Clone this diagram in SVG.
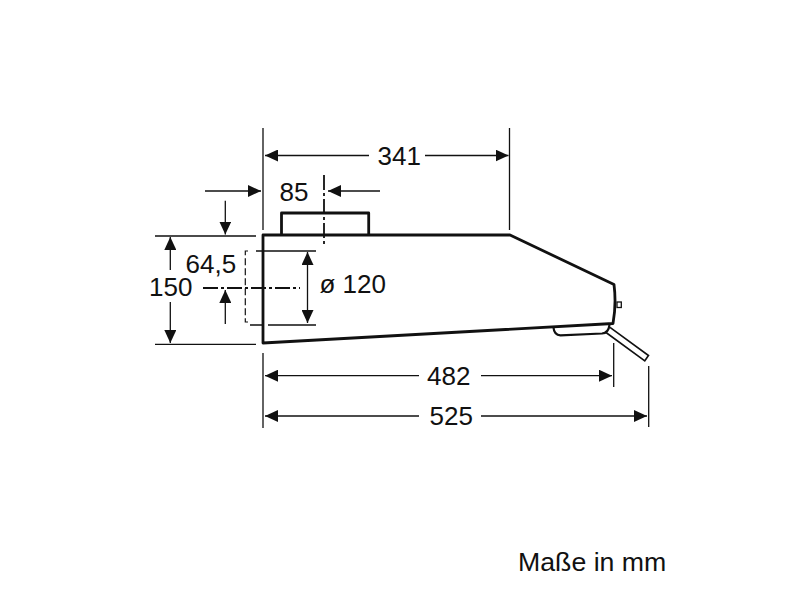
<svg xmlns="http://www.w3.org/2000/svg" width="800" height="600" viewBox="0 0 800 600">
<defs>
<marker id="ah" markerUnits="userSpaceOnUse" markerWidth="14" markerHeight="12" refX="13" refY="6" orient="auto-start-reverse"><path d="M0 0L13 6L0 12Z" fill="#111"/></marker>
</defs>
<style>
.o{fill:none;stroke:#111;stroke-width:2.8;stroke-linejoin:round}
.h{fill:none;stroke:#111;stroke-width:2.2}
.f{fill:none;stroke:#111;stroke-width:1.6}
.c{fill:none;stroke:#111;stroke-width:1.8;stroke-dasharray:15 3 3 3}
.d{fill:none;stroke:#111;stroke-width:1.2;stroke-dasharray:7 3}
.m{fill:none;stroke:#111;stroke-width:1.3}
text{font-family:"Liberation Sans",Arial,sans-serif;font-size:26px;fill:#111}
</style>
<rect width="800" height="600" fill="#fff"/>
<g id="hood">
<path class="o" d="M263 235H510L614 284.500Q616.500 304 613 323.500Q580 325.500 263 343Z"/>
<path class="o" d="M281.500 235V213H368.700V235"/>
<path class="h" d="M553.500 327.500Q554 335 560.500 335.300L602 333.500Q608.500 333 609.500 325"/>
<path class="f" d="M610 327.300L648.500 355.500L644.800 360.800L606 332.500"/>
<rect class="m" x="617" y="302" width="4.300" height="5.500"/>
</g>
<g id="connectors">
<path class="m" d="M263 128V230M509.500 128V230M263 353V428M613.700 343V387M648.700 366V427M155 236H256M155 344.300H256M256 251H316M250 325H262M268 325H316"/>
<path class="m" d="M369 155.500H265" marker-end="url(#ah)"/>
<path class="m" d="M425 155.500H508.500" marker-end="url(#ah)"/>
<path class="m" d="M205 191H261" marker-end="url(#ah)"/>
<path class="m" d="M380 191H328" marker-end="url(#ah)"/>
<path class="m" d="M225.300 200.700V234.500" marker-end="url(#ah)"/>
<path class="m" d="M225.300 324V290" marker-end="url(#ah)"/>
<path class="m" d="M170.300 270V237" marker-end="url(#ah)"/>
<path class="m" d="M170.300 302V343" marker-end="url(#ah)"/>
<path class="m" d="M307.500 281V252" marker-end="url(#ah)"/>
<path class="m" d="M307.500 281V323" marker-end="url(#ah)"/>
<path class="m" d="M419 375.700H265" marker-end="url(#ah)"/>
<path class="m" d="M481 375.700H612" marker-end="url(#ah)"/>
<path class="m" d="M419 416H265" marker-end="url(#ah)"/>
<path class="m" d="M481 416H647" marker-end="url(#ah)"/>
<path class="c" d="M324 175V245"/>
<path class="c" d="M203 288H300"/>
<path class="d" d="M248 251H245.300V322H248"/>
</g>
<g id="labels">
<text x="377.500" y="164.500">341</text>
<text x="279.500" y="200.500">85</text>
<text x="185.500" y="272.500">64,5</text>
<text x="149" y="295.500">150</text>
<text x="319.500" y="292.500">ø 120</text>
<text x="427" y="384.500">482</text>
<text x="429.500" y="424.500">525</text>
<text x="518" y="571" style="font-size:26.700px">Maße in mm</text>
</g>
</svg>
